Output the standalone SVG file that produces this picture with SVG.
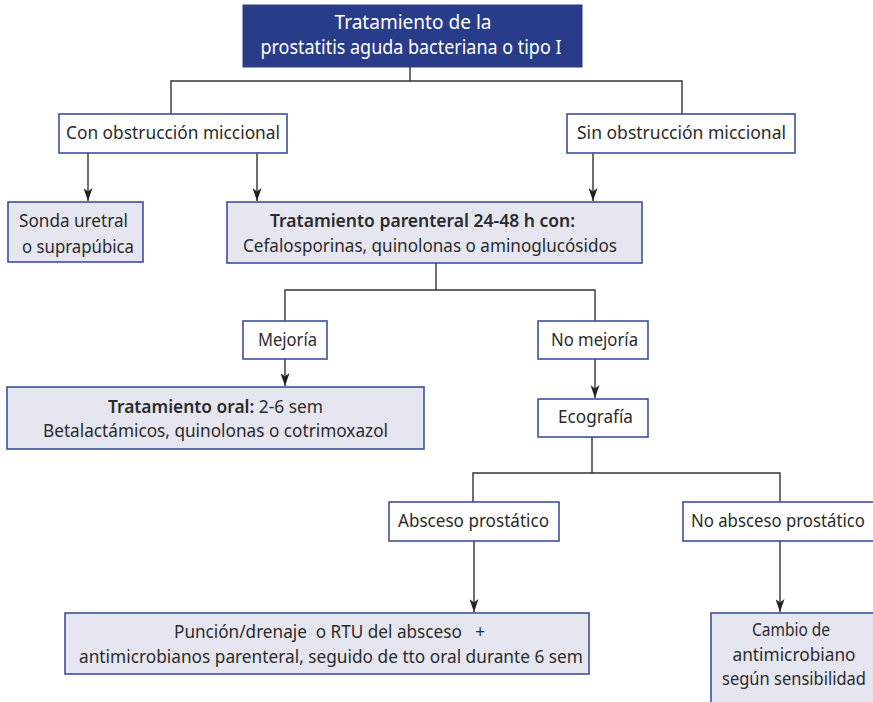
<svg xmlns="http://www.w3.org/2000/svg" width="873" height="702" viewBox="0 0 873 702">
<style>
.bx{stroke:#3d4f9f;stroke-width:1.6;}
.w{fill:#ffffff;}
.l{fill:#e6e6f1;}
.t{font-family:"Noto Sans","Liberation Sans",sans-serif;font-size:18px;fill:#2b2b2b;}
.tw{font-family:"Noto Sans","Liberation Sans",sans-serif;font-size:19px;fill:#ffffff;}
.b{font-weight:600;}
.c{fill:none;stroke:#333333;stroke-width:1.4;}
</style>
<defs>
<marker id="ah" markerUnits="userSpaceOnUse" markerWidth="14" markerHeight="9" refX="13" refY="4.5" orient="auto">
<path d="M0,0 L13,4.5 L0,9 L3.5,4.5 Z" fill="#222222"/>
</marker>
</defs>
<rect width="873" height="702" fill="#ffffff"/>
<g id="connectors">
<path class="c" d="M410,67 V81 M171,114 V81 H682 V114"/>
<path class="c" d="M88,153 V201" marker-end="url(#ah)"/>
<path class="c" d="M257,153 V201" marker-end="url(#ah)"/>
<path class="c" d="M593,153 V201" marker-end="url(#ah)"/>
<path class="c" d="M436,263 V290 M285,321 V290 H595 V321"/>
<path class="c" d="M285,359 V386" marker-end="url(#ah)"/>
<path class="c" d="M595,359 V398" marker-end="url(#ah)"/>
<path class="c" d="M592,437 V473 M473,502 V473 H780 V502"/>
<path class="c" d="M474,541 V612" marker-end="url(#ah)"/>
<path class="c" d="M780,541 V612" marker-end="url(#ah)"/>
</g>
<g id="title">
<rect x="243" y="5" width="339" height="62" fill="#283c8a" stroke="#283c8a"/>
<text class="tw" x="413" y="29" text-anchor="middle" textLength="157" lengthAdjust="spacingAndGlyphs">Tratamiento de la</text>
<text class="tw" x="411" y="54" text-anchor="middle" textLength="301" lengthAdjust="spacingAndGlyphs">prostatitis aguda bacteriana o tipo I</text>
</g>
<g id="con">
<rect class="bx w" x="59" y="114" width="228" height="39"/>
<text class="t" x="66" y="139" font-size="19" textLength="214" lengthAdjust="spacingAndGlyphs">Con obstrucción miccional</text>
</g>
<g id="sin">
<rect class="bx w" x="567" y="114" width="228" height="39"/>
<text class="t" x="577" y="139" font-size="19" textLength="209" lengthAdjust="spacingAndGlyphs">Sin obstrucción miccional</text>
</g>
<g id="sonda">
<rect class="bx l" x="8" y="202" width="135" height="60"/>
<text class="t" x="19" y="227" textLength="109" lengthAdjust="spacingAndGlyphs">Sonda uretral</text>
<text class="t" x="22" y="253" textLength="112" lengthAdjust="spacingAndGlyphs">o suprapúbica</text>
</g>
<g id="parenteral">
<rect class="bx l" x="227" y="202" width="415" height="61"/>
<text class="t b" x="270" y="227" textLength="305" lengthAdjust="spacingAndGlyphs">Tratamiento parenteral 24-48 h con:</text>
<text class="t" x="243" y="252" textLength="374" lengthAdjust="spacingAndGlyphs">Cefalosporinas, quinolonas o aminoglucósidos</text>
</g>
<g id="mejoria">
<rect class="bx w" x="243" y="321" width="84" height="38"/>
<text class="t" x="258" y="346" textLength="59" lengthAdjust="spacingAndGlyphs">Mejoría</text>
</g>
<g id="nomejoria">
<rect class="bx w" x="538" y="321" width="110" height="38"/>
<text class="t" x="551" y="346" textLength="87" lengthAdjust="spacingAndGlyphs">No mejoría</text>
</g>
<g id="oral">
<rect class="bx l" x="7" y="387" width="417" height="62"/>
<text class="t" x="108" y="413" textLength="215" lengthAdjust="spacingAndGlyphs"><tspan class="b">Tratamiento oral:</tspan> 2-6 sem</text>
<text class="t" x="43" y="437" textLength="345" lengthAdjust="spacingAndGlyphs">Betalactámicos, quinolonas o cotrimoxazol</text>
</g>
<g id="ecografia">
<rect class="bx w" x="538" y="399" width="110" height="38"/>
<text class="t" x="558" y="423" textLength="75" lengthAdjust="spacingAndGlyphs">Ecografía</text>
</g>
<g id="absceso">
<rect class="bx w" x="389" y="502" width="170" height="39"/>
<text class="t" x="398" y="527" textLength="151" lengthAdjust="spacingAndGlyphs">Absceso prostático</text>
</g>
<g id="noabsceso">
<rect class="bx w" x="683" y="502" width="191" height="39"/>
<text class="t" x="691" y="527" textLength="174" lengthAdjust="spacingAndGlyphs">No absceso prostático</text>
</g>
<g id="puncion">
<rect class="bx l" x="65" y="613" width="524" height="61"/>
<text class="t" x="174" y="638" textLength="311" lengthAdjust="spacingAndGlyphs" xml:space="preserve">Punción/drenaje  o RTU del absceso   +</text>
<text class="t" x="79" y="663" textLength="504" lengthAdjust="spacingAndGlyphs">antimicrobianos parenteral, seguido de tto oral durante 6 sem</text>
</g>
<g id="cambio">
<rect class="bx l" x="711" y="613" width="163" height="90"/>
<text class="t" x="791" y="636" text-anchor="middle" textLength="78" lengthAdjust="spacingAndGlyphs">Cambio de</text>
<text class="t" x="794" y="661" text-anchor="middle" textLength="123" lengthAdjust="spacingAndGlyphs">antimicrobiano</text>
<text class="t" x="794" y="685" text-anchor="middle" textLength="144" lengthAdjust="spacingAndGlyphs">según sensibilidad</text>
</g>
</svg>
